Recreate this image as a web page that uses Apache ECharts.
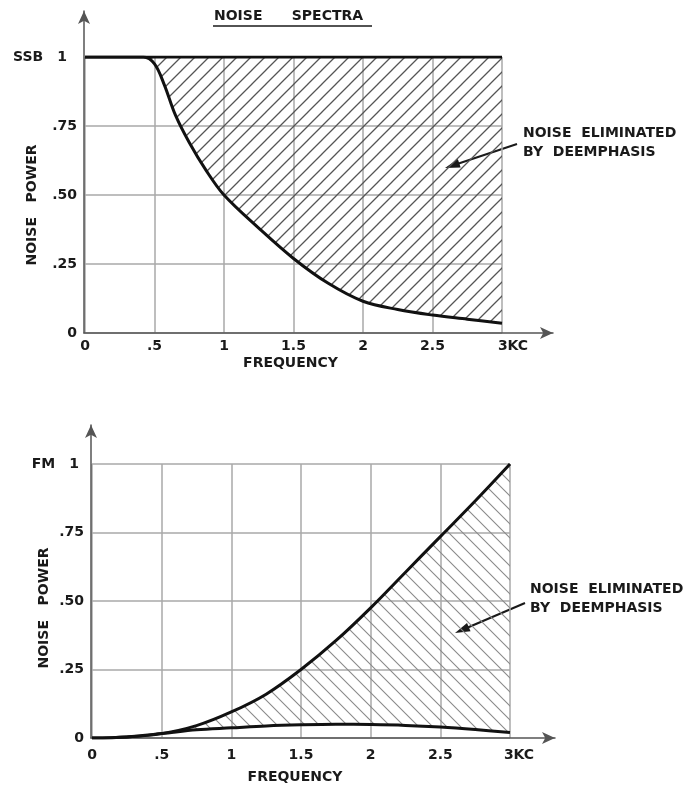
<!DOCTYPE html>
<html>
<head>
<meta charset="utf-8">
<script src="https://cdn.jsdelivr.net/npm/echarts@6/dist/echarts.min.js"></script>
<style>
html,body{margin:0;padding:0;background:#fff;}
#chart{width:692px;height:787px;}
</style>
</head>
<body>
<div id="chart"></div>
<script>
// SSB panel (kc, relative noise power)
var freqTop   = [0, 0.25, 0.42, 0.5, 0.57, 0.65, 0.75, 0.87, 1, 1.25, 1.5, 1.75, 2, 2.25, 2.5, 2.75, 3];
var ssbBefore = [1, 1, 1, 1, 1, 1, 1, 1, 1, 1, 1, 1, 1, 1, 1, 1, 1];
var ssbAfter  = [1, 1, 1, 0.975, 0.9, 0.79, 0.69, 0.59, 0.5, 0.38, 0.27, 0.18, 0.115, 0.085, 0.065, 0.05, 0.035];

// FM panel
var freqBottom = [0, 0.25, 0.5, 0.75, 1, 1.25, 1.5, 1.75, 2, 2.25, 2.5, 2.75, 3];
var fmBefore   = [0, 0.004, 0.016, 0.045, 0.095, 0.16, 0.25, 0.355, 0.475, 0.605, 0.735, 0.865, 1];
var fmAfter    = [0, 0.004, 0.016, 0.03, 0.037, 0.044, 0.048, 0.05, 0.049, 0.046, 0.04, 0.031, 0.02];

var xTickLabels = ['0', '.5', '1', '1.5', '2', '2.5', '3KC'];
var yTickLabels = ['0', '.25', '.50', '.75', '1'];

var FONT = 'DejaVu Sans';
var INK = '#1a1a1a';

// rows are [power, freq] so the stack is taken on the power column (encode maps them back)
function rows(xs, ys) {
    return xs.map(function (x, i) { return [ys[i], x]; });
}
function diff(a, b) {
    return a.map(function (v, i) { return +(v - b[i]).toFixed(4); });
}

function hatch(dir, color, width) {
    var s = 14;
    var c = document.createElement('canvas');
    c.width = s; c.height = s;
    var ctx = c.getContext('2d');
    ctx.strokeStyle = color;
    ctx.lineWidth = width;
    ctx.beginPath();
    if (dir == '/') {
        ctx.moveTo(-2, s + 2); ctx.lineTo(s + 2, -2);
        ctx.moveTo(-2, 2); ctx.lineTo(2, -2);
        ctx.moveTo(s - 2, s + 2); ctx.lineTo(s + 2, s - 2);
    } else {
        ctx.moveTo(-2, -2); ctx.lineTo(s + 2, s + 2);
        ctx.moveTo(s - 2, -2); ctx.lineTo(s + 2, 2);
        ctx.moveTo(-2, s - 2); ctx.lineTo(2, s + 2);
    }
    ctx.stroke();
    return c;
}

function arrow(x1, y1, x2, y2) {
    var dx = x2 - x1, dy = y2 - y1;
    var len = Math.sqrt(dx * dx + dy * dy);
    var ux = dx / len, uy = dy / len;
    var hl = 15, hw = 4.5;
    var bx = x2 - ux * hl, by = y2 - uy * hl;
    return [
        {type: 'line', shape: {x1: x1, y1: y1, x2: bx + ux * 3, y2: by + uy * 3}, style: {stroke: INK, lineWidth: 2}},
        {type: 'polygon', shape: {points: [[x2, y2], [bx - uy * hw, by + ux * hw], [bx + uy * hw, by - ux * hw]]}, style: {fill: INK}}
    ];
}

function txt(size) {
    return {fontFamily: FONT, fontSize: size, fontWeight: 'bold', color: INK};
}

function plotX(grid, labelMargin, nameGap, kcPad, namePad) {
    return {
        gridIndex: grid, type: 'value', min: 0, max: 3, interval: 0.5,
        name: 'FREQUENCY', nameLocation: 'middle', nameGap: nameGap, nameMoveOverlap: false,
        nameTextStyle: Object.assign(txt(14), {padding: [0, namePad, 0, 0]}),
        axisLine: {show: false}, axisTick: {show: false},
        splitLine: {show: true, lineStyle: {color: '#a9a9a9', width: 1.5}},
        axisLabel: Object.assign(txt(14), {
            margin: labelMargin, showMinLabel: true, showMaxLabel: true, hideOverlap: false,
            formatter: function (v) {
                var i = Math.round(v / 0.5);
                if (i == 6) return '{k|' + xTickLabels[i] + '}';
                return xTickLabels[i];
            },
            rich: {k: Object.assign(txt(14), {padding: [0, 0, 0, kcPad]})}
        })
    };
}

function plotY(grid, tag, gap1, pad1, nameGap, namePad) {
    return {
        gridIndex: grid, type: 'value', min: 0, max: 1, interval: 0.25,
        name: 'NOISE   POWER', nameLocation: 'middle', nameGap: nameGap, nameMoveOverlap: false,
        nameTextStyle: Object.assign(txt(14), {padding: [0, namePad, 0, 0]}),
        axisLine: {show: false}, axisTick: {show: false},
        splitLine: {show: true, lineStyle: {color: '#a9a9a9', width: 1.5}},
        axisLabel: Object.assign(txt(14), {
            margin: 8, showMinLabel: true, showMaxLabel: true, hideOverlap: false,
            formatter: function (v) {
                var i = Math.round(v / 0.25);
                if (i == 4) return '{t|' + tag + '}{o|' + yTickLabels[i] + '}';
                return yTickLabels[i];
            },
            rich: {
                t: Object.assign(txt(14), {padding: [0, gap1, 0, 0]}),
                o: Object.assign(txt(14), {padding: [0, pad1, 0, 0]})
            }
        })
    };
}

function arrowAxis(grid) {
    return {
        gridIndex: grid, type: 'value', min: 0, max: 1,
        axisLine: {show: true, onZero: false, symbol: ['none', 'arrow'], symbolSize: [9, 13],
            lineStyle: {color: '#555', width: 1.5}},
        axisTick: {show: false}, axisLabel: {show: false}, splitLine: {show: false}
    };
}

var chart = echarts.init(document.getElementById('chart'), null, {renderer: 'canvas'});

var topHatch = hatch('/', '#555', 1.3);
var botHatch = hatch('\\', '#8a8a8a', 1.1);

var note = 'NOISE  ELIMINATED\nBY  DEEMPHASIS';
var graphics = [
    {type: 'line', shape: {x1: 213, y1: 26, x2: 372, y2: 26}, style: {stroke: INK, lineWidth: 1.5}},
    {type: 'text', left: 523, top: 124, style: {text: note, fontFamily: FONT, fontSize: 14, fontWeight: 'bold', fill: INK, lineHeight: 19}},
    {type: 'text', left: 530, top: 580, style: {text: note, fontFamily: FONT, fontSize: 14, fontWeight: 'bold', fill: INK, lineHeight: 19}}
].concat(arrow(517, 144, 445, 168)).concat(arrow(525, 603, 455, 633));

var lineStyle = {color: '#111', width: 3};

var option = {
    animation: false,
    backgroundColor: '#fff',
    title: {
        text: 'NOISE      SPECTRA', left: 214, top: 9, padding: 0,
        textStyle: txt(14)
    },
    grid: [
        {left: 85, top: 57, width: 417, height: 276, outerBoundsMode: 'none'},
        {left: 92, top: 464, width: 418, height: 274, outerBoundsMode: 'none'},
        {left: 84, top: 11, width: 469, height: 322, outerBoundsMode: 'none'},
        {left: 91, top: 425, width: 464, height: 313, outerBoundsMode: 'none'}
    ],
    xAxis: [plotX(0, 6, 23, 22, 6), plotX(1, 10, 32, 18, 12), arrowAxis(2), arrowAxis(3)],
    yAxis: [plotY(0, 'SSB', 14, 10, 46, 20), plotY(1, 'FM', 14, 5, 41, 14), arrowAxis(2), arrowAxis(3)],
    series: [
        {
            name: 'SSB after deemphasis', type: 'line', xAxisIndex: 0, yAxisIndex: 0, stack: 'ssb',
            data: rows(freqTop, ssbAfter), encode: {x: 1, y: 0}, symbol: 'none', smooth: 0.35,
            lineStyle: lineStyle, z: 4
        },
        {
            name: 'SSB noise eliminated', type: 'line', xAxisIndex: 0, yAxisIndex: 0, stack: 'ssb',
            data: rows(freqTop, diff(ssbBefore, ssbAfter)), encode: {x: 1, y: 0}, symbol: 'none',
            lineStyle: lineStyle,
            areaStyle: {color: {image: topHatch, repeat: 'repeat'}, opacity: 1}, z: 3
        },
        {
            name: 'FM after deemphasis', type: 'line', xAxisIndex: 1, yAxisIndex: 1, stack: 'fm',
            data: rows(freqBottom, fmAfter), encode: {x: 1, y: 0}, symbol: 'none', smooth: 0.35,
            lineStyle: lineStyle, z: 4
        },
        {
            name: 'FM noise eliminated', type: 'line', xAxisIndex: 1, yAxisIndex: 1, stack: 'fm',
            data: rows(freqBottom, diff(fmBefore, fmAfter)), encode: {x: 1, y: 0}, symbol: 'none', smooth: 0.35,
            lineStyle: lineStyle,
            areaStyle: {color: {image: botHatch, repeat: 'repeat'}, opacity: 1}, z: 3
        }
    ],
    graphic: graphics
};

chart.setOption(option);
</script>
</body>
</html>
